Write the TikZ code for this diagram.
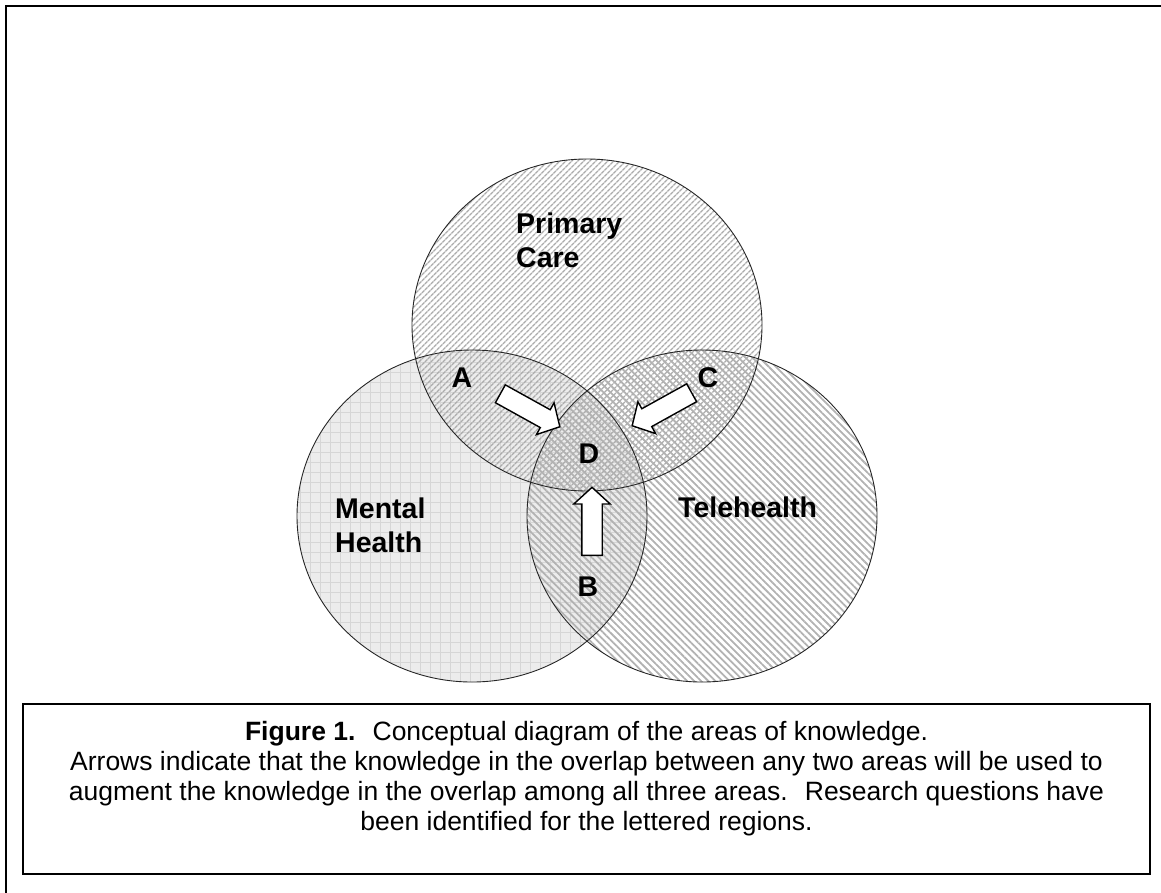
\documentclass[tikz,border=0pt]{standalone}
\usepackage{fontspec}
\setmainfont{Liberation Sans}
\usetikzlibrary{patterns.meta, shapes.arrows}

\begin{document}
\begin{tikzpicture}[x=1pt, y=-1pt,
    area/.style={draw=black!85, line width=0.9pt},
    areaname/.style={font=\fontsize{28.5}{34}\selectfont\bfseries, align=left, anchor=base west, inner sep=0pt},
    region/.style={font=\fontsize{28.5}{34}\selectfont\bfseries, anchor=base, inner sep=0pt},
    blockarrow/.style={single arrow, draw=black, fill=white, line width=1.4pt,
        minimum height=68pt, inner xsep=0pt, inner ysep=9.5pt,
        single arrow head extend=8pt, single arrow tip angle=95},
    caption/.style={font=\fontsize{26.5}{30}\selectfont, align=center, anchor=base}
]
\useasboundingbox (0,0) rectangle (1161,892);
\draw[line width=2pt] (6,6) rectangle (1175,905);

% the three areas of knowledge
\fill[gray!15] (472,516) ellipse [x radius=175, y radius=166];
\fill[pattern={Hatch[distance=10pt, line width=0.6pt]}, pattern color=gray!32] (472,516) ellipse [x radius=175, y radius=166];
\fill[pattern={Lines[angle=45, distance=4pt, line width=1.4pt]}, pattern color=gray!65] (587,325) ellipse [x radius=175, y radius=166];
\fill[pattern={Lines[angle=-45, distance=5pt, line width=1.8pt]}, pattern color=gray!60] (702,516) ellipse [x radius=175, y radius=166];
\draw[area] (472,516) ellipse [x radius=175, y radius=166];
\draw[area] (587,325) ellipse [x radius=175, y radius=166];
\draw[area] (702,516) ellipse [x radius=175, y radius=166];

% anchor base is the last line
\node[areaname] (primary) at (516,267) {Primary\\Care};
\node[areaname] (mental) at (335,552) {Mental\\Health};
\node[areaname] (tele) at (678,517) {Telehealth};

\node[region] (regA) at (462,387) {A};
\node[region] (regC) at (708,387) {C};
\node[region] (regD) at (589,463) {D};
\node[region] (regB) at (588,596) {B};

\node[blockarrow, rotate=-29] (arrA) at (526,408) {};
\node[blockarrow, rotate=209] (arrC) at (666,407) {};
\node[blockarrow, rotate=90] (arrB) at (592,526) {};

% caption
\draw[line width=2pt] (23,704) rectangle (1150,874);
\node[caption] (cap) at (586.5,830) {\textbf{Figure 1.}~ Conceptual diagram of the areas of knowledge.\\
Arrows indicate that the knowledge in the overlap between any two areas will be used to\\
augment the knowledge in the overlap among all three areas.~ Research questions have\\
been identified for the lettered regions.};
\end{tikzpicture}
\end{document}
